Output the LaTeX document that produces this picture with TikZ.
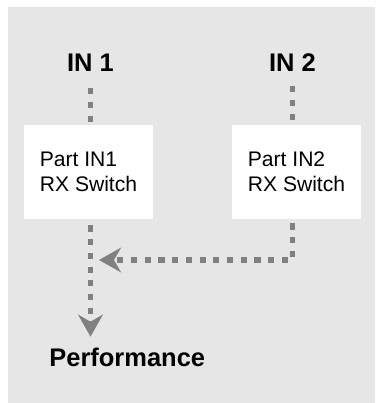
\documentclass[tikz,border=0pt]{standalone}
\usepackage{fontspec}
\setmainfont{Liberation Sans}
\usetikzlibrary{arrows.meta}
\definecolor{panelgrey}{HTML}{E6E6E6}
\definecolor{linkgrey}{HTML}{808080}

\begin{document}
\begin{tikzpicture}[
    >={Stealth[length=12.5pt, width=14pt, inset=4pt]},
    block/.style={fill=white, minimum width=2.58cm, minimum height=1.88cm, align=left, font=\fontsize{12}{14.5}\selectfont},
    heading/.style={inner sep=0, anchor=base, font=\fontsize{14.5}{17}\selectfont\bfseries},
    link/.style={draw=linkgrey, line width=2.85pt, dash pattern=on 3.5pt off 4.3pt}
]
    \useasboundingbox (0,0) rectangle (7.5,8.06);
    \fill[panelgrey] (0.16,0) rectangle (7.5,7.92);

    \node[heading] (in1) at (1.81,6.62) {IN 1};
    \node[heading] (in2) at (5.85,6.62) {IN 2};
    \node[heading, anchor=base west] (perf) at (0.98,0.72) {Performance};
    \coordinate (merge) at (in1.south |- 0,2.86);

    \draw[link, ->, shorten <=0.32cm, shorten >=0.23cm] (in1.south) -- (in1.south |- perf.north);
    \draw[link, ->, shorten <=0.28cm, shorten >=0.17cm] (in2.south) |- (merge);

    \node[block] (sw1) at (1.77,4.62) {Part IN1\\RX Switch};
    \node[block] (sw2) at (5.93,4.62) {Part IN2\\RX Switch};
\end{tikzpicture}
\end{document}
